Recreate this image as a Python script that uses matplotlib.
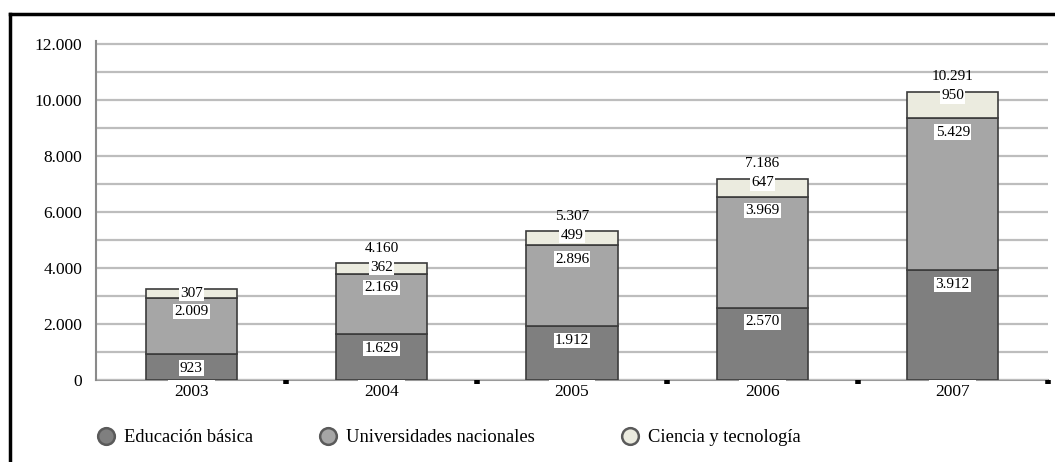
import numpy as np
from matplotlib import pyplot as plt
from matplotlib.lines import Line2D

plt.rcParams['font.family'] = ['Liberation Serif', 'DejaVu Serif']

# datos
anios = ['2003', '2004', '2005', '2006', '2007']
educacion_basica = [923, 1629, 1912, 2570, 3912]
universidades = [2009, 2169, 2896, 3969, 5429]
ciencia = [307, 362, 499, 647, 950]
series_nombres = ['Educación básica', 'Universidades nacionales', 'Ciencia y tecnología']
colores = ['#7f7f7f', '#a6a6a6', '#ebebdf']

def fmt(v):
    return '{:,}'.format(int(v)).replace(',', '.')

fig = plt.figure(figsize=(10.55, 4.62), dpi=100)
ax = fig.add_axes([96/1055, 1-380/462, 952/1055, 339/462])

x = np.arange(len(anios))
series = [educacion_basica, universidades, ciencia]
base = np.zeros(len(anios))
for k in range(3):
    vals = np.array(series[k])
    ax.bar(x, vals, 0.48, bottom=base, color=colores[k], edgecolor='#3c3c3c',
           linewidth=1.2, zorder=3)
    for i in range(len(anios)):
        top = base[i] + vals[i]
        off = -10 if k < 2 else -3
        ax.annotate(fmt(vals[i]), (x[i], top), xytext=(0, off), textcoords='offset points',
                    ha='center', va='center', fontsize=11, zorder=5,
                    bbox=dict(boxstyle='square,pad=0.08', fc='white', ec='none'))
    base = base + vals

# totales (el de 2003 no aparece)
for i in range(1, len(anios)):
    ax.annotate(fmt(base[i]), (x[i], base[i]), xytext=(0, 11), textcoords='offset points',
                ha='center', va='center', fontsize=11)

ax.set_xlim(-0.5, 4.5)
ax.set_ylim(0, 12100)
ax.set_yticks(np.arange(0, 12001, 2000))
ax.set_yticklabels([fmt(v) for v in np.arange(0, 12001, 2000)])
ax.set_yticks(np.arange(0, 12001, 1000), minor=True)
ax.yaxis.grid(True, which='both', color='#bdbdbd', linewidth=1.6)
ax.set_axisbelow(True)
ax.tick_params(axis='y', which='both', length=0, pad=10, labelsize=12.5)

ax.set_xticks(x)
ax.set_xticklabels(anios)
ax.set_xticks(np.arange(0.5, 5, 1), minor=True)
ax.tick_params(axis='x', which='major', length=0, pad=3, labelsize=12.5)
ax.tick_params(axis='x', which='minor', length=3, width=4, color='black', direction='out')
for t in ax.get_xticklabels():
    t.set_bbox(dict(boxstyle='square,pad=0.35', fc='white', ec='none'))

for s in ['top', 'right']:
    ax.spines[s].set_visible(False)
ax.spines['left'].set_color('#8a8a8a')
ax.spines['left'].set_linewidth(1.5)
ax.spines['bottom'].set_color('#9a9a9a')
ax.spines['bottom'].set_linewidth(1.5)
ax.spines['bottom'].set_zorder(0.4)

# leyenda: una entrada por serie, cada una en su sitio
pos_leyenda = [97, 319, 621]
for k in range(3):
    h = Line2D([], [], marker='o', linestyle='none', markersize=12,
               markerfacecolor=colores[k], markeredgecolor='#5a5a5a', markeredgewidth=1.8)
    fig.legend([h], [series_nombres[k]], loc='center left',
               bbox_to_anchor=(pos_leyenda[k]/1055, 1-438/462), frameon=False,
               fontsize=13.3, handlelength=1.0, handletextpad=0.45,
               borderpad=0, borderaxespad=0)

# marco
fig.add_artist(Line2D([10/1055, 10/1055], [0, 1-14/462], color='black', linewidth=2.5,
                      transform=fig.transFigure))
fig.add_artist(Line2D([10/1055, 1], [1-14/462, 1-14/462], color='black', linewidth=2.5,
                      transform=fig.transFigure))

plt.savefig('out.png', dpi=100)
